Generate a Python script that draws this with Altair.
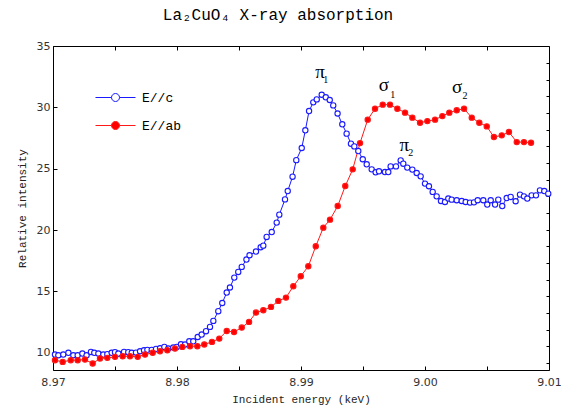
import altair as alt
import pandas as pd

# ---------------- data ----------------
series_names = ["E//c", "E//ab"]

blue_e = [8.97016, 8.97043, 8.97083, 8.97124, 8.97164, 8.97199, 8.97237, 8.97271, 8.97306, 8.97333,
          8.97366, 8.97406, 8.97438, 8.97473, 8.97500, 8.97527, 8.97573, 8.97607, 8.97635, 8.97669,
          8.97702, 8.97734, 8.97761, 8.97796, 8.97831, 8.97863, 8.97898, 8.97930, 8.97970, 8.97998,
          8.98032, 8.98065, 8.98099, 8.98131, 8.98167, 8.98199, 8.98234, 8.98266, 8.98293, 8.98333,
          8.98365, 8.98401, 8.98427, 8.98462, 8.98494, 8.98522, 8.98560, 8.98585, 8.98637, 8.98675,
          8.98696, 8.98723, 8.98764, 8.98804, 8.98825, 8.98871, 8.98893, 8.98932, 8.98962, 8.99006,
          8.99035, 8.99065, 8.99099, 8.99127, 8.99167, 8.99200, 8.99232, 8.99260, 8.99295, 8.99333,
          8.99368, 8.99403, 8.99430, 8.99462, 8.99498, 8.99530, 8.99570, 8.99602, 8.99629, 8.99677,
          8.99704, 8.99723, 8.99766, 8.99804, 8.99825, 8.99857, 8.99898, 8.99933, 8.99965, 9.00000,
          9.00032, 9.00062, 9.00094, 9.00129, 9.00161, 9.00188, 9.00215, 9.00256, 9.00296, 9.00328,
          9.00363, 9.00395, 9.00425, 9.00470, 9.00502, 9.00530, 9.00565, 9.00591, 9.00623, 9.00659,
          9.00691, 9.00731, 9.00766, 9.00798, 9.00825, 9.00860, 9.00895, 9.00927, 9.00962, 9.00994]
blue_v = [9.86, 9.80, 9.86, 10.00, 9.80, 9.80, 9.94, 9.80, 10.07, 10.00,
          9.94, 9.86, 9.89, 10.00, 10.05, 9.94, 10.07, 10.05, 10.00, 10.02,
          10.13, 10.21, 10.24, 10.24, 10.32, 10.37, 10.48, 10.35, 10.43, 10.48,
          10.70, 10.68, 10.94, 10.94, 11.29, 11.49, 11.76, 12.11, 12.60, 13.39,
          14.06, 14.91, 15.32, 16.13, 16.59, 17.00, 17.60, 17.95, 18.25, 18.60,
          18.73, 19.44, 19.84, 20.61, 21.26, 22.50, 23.18, 24.35, 25.70, 26.69,
          28.13, 29.70, 30.41, 30.65, 31.03, 30.82, 30.60, 30.16, 29.50, 28.62,
          27.86, 27.04, 26.82, 26.44, 25.77, 25.36, 24.95, 24.71, 24.79, 24.73,
          24.73, 25.19, 25.19, 25.68, 25.41, 25.09, 24.93, 24.65, 24.38, 23.79,
          23.57, 23.11, 22.75, 22.37, 22.29, 22.57, 22.48, 22.43, 22.37, 22.29,
          22.24, 22.26, 22.43, 22.43, 22.08, 22.43, 22.08, 22.48, 21.96, 22.61,
          22.70, 22.35, 22.89, 22.75, 22.57, 22.83, 22.83, 23.24, 23.18, 22.97]

red_e = [8.97016, 8.97078, 8.97143, 8.97199, 8.97258, 8.97320, 8.97379, 8.97438, 8.97500, 8.97562,
         8.97621, 8.97683, 8.97742, 8.97804, 8.97863, 8.97922, 8.97984, 8.98043, 8.98105, 8.98164,
         8.98220, 8.98282, 8.98341, 8.98401, 8.98460, 8.98522, 8.98581, 8.98637, 8.98696, 8.98758,
         8.98817, 8.98879, 8.98938, 8.98998, 8.99059, 8.99119, 8.99180, 8.99234, 8.99296, 8.99357,
         8.99417, 8.99476, 8.99538, 8.99597, 8.99659, 8.99718, 8.99777, 8.99839, 8.99898, 8.99960,
         9.00019, 9.00081, 9.00140, 9.00196, 9.00256, 9.00315, 9.00377, 9.00438, 9.00498, 9.00556,
         9.00619, 9.00677, 9.00740, 9.00798, 9.00855]
red_v = [9.40, 9.26, 9.40, 9.40, 9.45, 9.13, 9.54, 9.59, 9.67, 9.72,
         9.72, 9.67, 9.86, 10.00, 10.13, 10.21, 10.35, 10.48, 10.54, 10.54,
         10.68, 10.89, 11.16, 11.78, 11.70, 12.06, 12.52, 13.28, 13.47, 13.74,
         14.23, 14.50, 15.42, 16.24, 17.05, 18.68, 20.20, 20.85, 21.96, 23.59,
         24.95, 27.09, 29.00, 29.89, 30.22, 30.22, 29.89, 29.57, 29.16, 28.75,
         28.88, 29.00, 29.29, 29.57, 29.76, 29.89, 29.16, 28.75, 28.45, 27.58,
         27.72, 27.99, 27.17, 27.17, 27.12]

x_ticks = [8.97, 8.975, 8.98, 8.985, 8.99, 8.995, 9.00, 9.005, 9.01]
y_ticks = [10, 15, 20, 25, 30, 35]
right_ticks = [9.18, 10.54, 11.89, 13.25, 14.61, 15.97, 17.32, 18.68, 20.04, 21.39,
               22.75, 24.11, 25.46, 26.82, 28.18, 29.54, 30.89, 32.25, 33.61]

ann_labels = ["π", "σ", "σ", "π"]
ann_e = [8.99153, 8.99669, 9.00260, 8.99833]
ann_v = [32.85, 31.79, 31.65, 26.90]
sub_labels = ["1", "1", "2", "2"]
sub_e = [8.99200, 8.99739, 9.00323, 8.99885]
sub_v = [32.20, 31.03, 30.90, 26.28]

# ---------------- tables ----------------
df = pd.concat([
    pd.DataFrame({"E": blue_e, "I": blue_v, "series": series_names[0], "k": range(len(blue_e))}),
    pd.DataFrame({"E": red_e, "I": red_v, "series": series_names[1], "k": range(len(red_e))}),
], ignore_index=True)
ann_df = pd.DataFrame({"E": ann_e, "I": ann_v, "t": ann_labels})
sub_df = pd.DataFrame({"E": sub_e, "I": sub_v, "t": sub_labels})

MONO = "Liberation Mono"
xscale = alt.Scale(domain=[8.97, 9.01], nice=False, zero=False)
yscale = alt.Scale(domain=[8.6, 35], nice=False, zero=False)

xaxis = alt.Axis(values=x_ticks, labelExpr="round(datum.value*1000) % 10 == 0 ? format(datum.value, '.2f') : ''",
                 tickSize=4, offset=-4, domain=False, grid=False, labelPadding=6, labelFlush=False,
                 labelOverlap=False, labelFont="DejaVu Sans", labelFontSize=11, labelColor="#333",
                 tickColor="#000", titleFont=MONO, titleFontSize=11, titleFontWeight="normal",
                 titleColor="#222", titlePadding=6)
yaxis = alt.Axis(values=y_ticks, format="d", tickSize=4, offset=-4, domain=False, grid=False,
                 labelPadding=3, labelFont="DejaVu Sans", labelFontSize=11, labelColor="#333",
                 tickColor="#000", titleFont=MONO, titleFontSize=11, titleFontWeight="normal",
                 titleColor="#222", titlePadding=9)

X = alt.X("E:Q", scale=xscale, axis=xaxis, title="Incident energy (keV)")
Y = alt.Y("I:Q", scale=yscale, axis=yaxis, title="Relative intensity")

SYM = "M-1,0L-0.2,0M0.2,0L1,0M0.2,0A0.2,0.2,0,1,1,-0.2,0A0.2,0.2,0,1,1,0.2,0Z"
legend = alt.Legend(title=None, orient="none", legendX=42, legendY=31, symbolType=SYM,
                    symbolSize=1600, symbolStrokeWidth=1, labelFont=MONO, labelFontSize=13,
                    labelColor="#000", labelOffset=6, padding=0, rowPadding=0)

stroke_scale = alt.Scale(domain=series_names, range=["#1a1aff", "#ff1a1a"])
fill_scale = alt.Scale(domain=series_names, range=["#ffffff", "#ff0000"])

lines = alt.Chart(df).mark_line(strokeWidth=1).encode(
    x=X, y=Y, order="k:Q",
    stroke=alt.Stroke("series:N", scale=stroke_scale, legend=legend, sort=series_names),
)
points = alt.Chart(df).mark_point(shape="circle", filled=True, size=28, strokeWidth=1.1, opacity=1).encode(
    x=X, y=Y,
    stroke=alt.Stroke("series:N", scale=stroke_scale, legend=legend, sort=series_names),
    fill=alt.Fill("series:N", scale=fill_scale, legend=legend, sort=series_names),
)
ann = alt.Chart(ann_df).mark_text(font="Liberation Serif", fontSize=19, color="#000",
                                  align="center", baseline="middle").encode(x=X, y=Y, text="t:N")
sub = alt.Chart(sub_df).mark_text(font="Liberation Serif", fontSize=10, color="#000",
                                  align="center", baseline="middle").encode(x=X, y=Y, text="t:N")

main = alt.layer(lines, points, ann, sub)

frame_axes = alt.Chart(df).mark_point(opacity=0).encode(
    x=alt.X("E:Q", scale=xscale, axis=alt.Axis(orient="top", values=x_ticks, labels=False, tickSize=4,
                                               offset=-4, domain=False, grid=False, tickColor="#000", title=None)),
    y=alt.Y("I:Q", scale=yscale, axis=alt.Axis(orient="right", values=right_ticks, labels=False, tickSize=3,
                                               offset=-3, domain=False, grid=False, tickColor="#000", title=None)),
)

chart = alt.layer(main, frame_axes).resolve_axis(x="independent", y="independent").properties(
    width=496, height=324,
    autosize=alt.AutoSizeParams(type="none"),
    padding={"left": 45, "top": 38, "right": 12, "bottom": 35},
    title=alt.TitleParams("La₂CuO₄ X-ray absorption", font=MONO, fontSize=16, fontWeight="normal",
                          color="#000", anchor="middle", dx=-23, offset=4, baseline="alphabetic"),
).configure_view(stroke="#000", strokeWidth=1)

chart.save("out.html", embed_options={"renderer": "svg", "actions": False})
